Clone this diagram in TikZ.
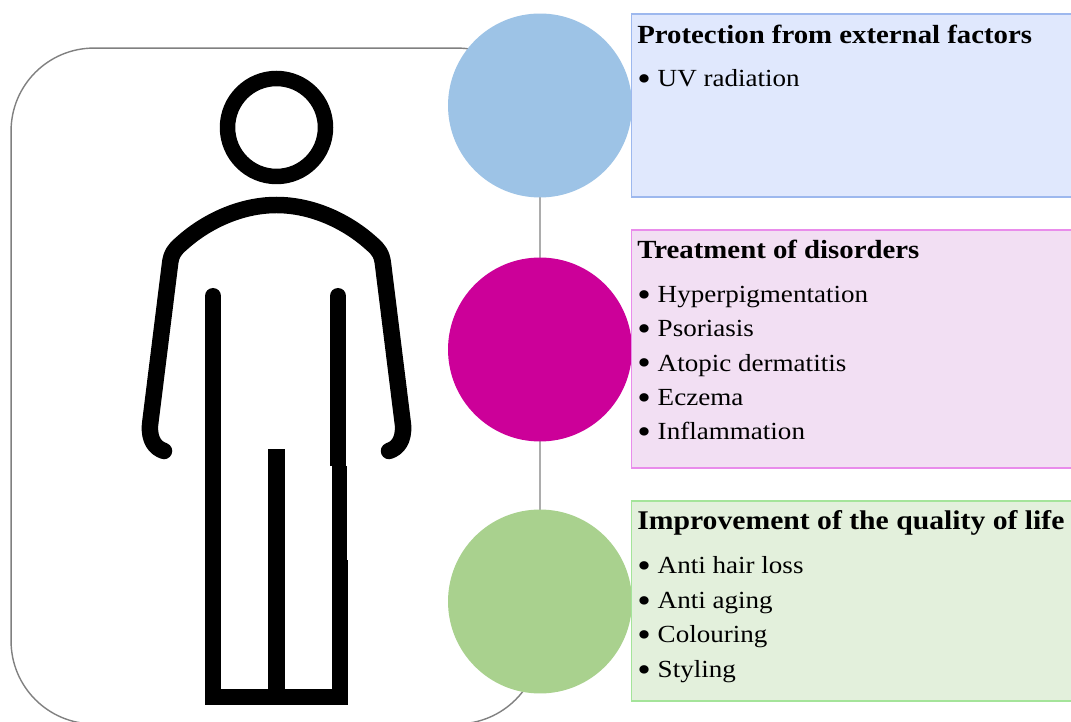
\documentclass[tikz,border=0pt]{standalone}
\usepackage{xcolor}
\usepackage{fontspec}
\setmainfont[FakeStretch=1.1]{Liberation Serif}
\usepackage{tikz}
\definecolor{blueround}{HTML}{9DC3E6}
\definecolor{pinkround}{HTML}{CC0099}
\definecolor{greenround}{HTML}{A9D18E}
\definecolor{bluepanel}{HTML}{E0E8FD}
\definecolor{pinkpanel}{HTML}{F2DFF3}
\definecolor{greenpanel}{HTML}{E3F0DC}
\definecolor{blueedge}{HTML}{9DB8EE}
\definecolor{pinkedge}{HTML}{E98CEB}
\definecolor{greenedge}{HTML}{A4E49A}
\newcommand{\lstdot}{\makebox[11.6pt][l]{\raisebox{-2.2pt}{\fontsize{20}{19.6}\selectfont •}}}
\tikzset{
  roundnode/.style={circle,minimum size=3.68cm,inner sep=0pt},
  panel/.style={rectangle,minimum width=8.98cm,line width=0.6pt,inner sep=0pt},
  paneltitle/.style={anchor=base west,inner sep=0pt,font=\fontsize{14.9}{17}\selectfont\bfseries},
  panellist/.style={anchor=north west,inner sep=0pt,align=left,font=\fontsize{14}{19.6}\selectfont},
  figline/.style={line width=0.33cm,line cap=round,line join=round}
}
\begin{document}
\begin{tikzpicture}[x=0.02cm,y=-0.02cm]
\clip (0,0) rectangle (1071,722);
\fill[white] (0,0) rectangle (1071,722);
\node[rectangle,rounded corners=1.66cm,draw=black!50,line width=0.8pt,minimum width=10.58cm,minimum height=13.52cm,inner sep=0pt] (frame) at (275.5,386) {};
% the figure
\draw[line width=0.31cm] (276.5,127.5) circle [radius=0.98cm];
\draw[figline] (164,451) .. controls (155,448) and (149,440) .. (150,425) -- (170,264) .. controls (171,254) and (175,249) .. (181,244) .. controls (205,222) and (240,205) .. (276.5,205) .. controls (313,205) and (348,222) .. (372,244) .. controls (378,249) and (382,254) .. (383,264) -- (403,425) .. controls (404,440) and (398,448) .. (389,451);
\draw[line width=0.32cm,line cap=round] (213,296) -- (213,690);
\draw[line width=0.32cm,line cap=round] (338,296) -- (338,310);
\fill (330,300) rectangle (346,466);
\fill (332,466) rectangle (347,560);
\fill (332,560) rectangle (348,700);
\fill (268,449) rectangle (285,700);
\fill (205,689) rectangle (348,705);
% circles
\node[roundnode,fill=blueround] (rnda) at (540,105.5) {};
\node[roundnode,fill=pinkround] (rndb) at (540,349.5) {};
\node[roundnode,fill=greenround] (rndc) at (540,601.5) {};
% panels
\node[panel,draw=blueedge,fill=bluepanel,minimum height=3.66cm] (pnla) at (855.5,105.5) {};
\node[panel,draw=pinkedge,fill=pinkpanel,minimum height=4.76cm] (pnlb) at (855.5,349) {};
\node[panel,draw=greenedge,fill=greenpanel,minimum height=4cm] (pnlc) at (855.5,601) {};
\node[paneltitle] (tita) at (637,43.5) {Protection from external factors};
\node[paneltitle] (titb) at (637,258.5) {Treatment of disorders};
\node[paneltitle,font=\fontsize{15.35}{17}\selectfont\bfseries] (titc) at (637,529.5) {Improvement of the quality of life};
\node[panellist] (lsta) at (637,69.5) {\lstdot UV radiation};
\node[panellist] (lstb) at (637,285.5) {\lstdot Hyperpigmentation\\\lstdot Psoriasis\\\lstdot Atopic dermatitis\\\lstdot Eczema\\\lstdot Inflammation};
\node[panellist] (lstc) at (637,556.5) {\lstdot Anti hair loss\\\lstdot Anti aging\\\lstdot Colouring\\\lstdot Styling};
\end{tikzpicture}
\end{document}
